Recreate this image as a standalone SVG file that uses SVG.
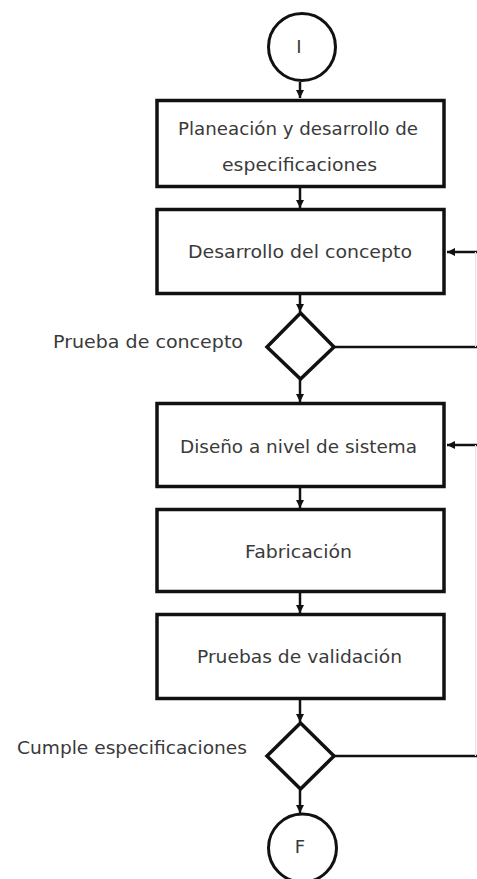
<svg xmlns="http://www.w3.org/2000/svg" width="477" height="879" viewBox="0 0 477 879">
<defs>
<marker id="ah" viewBox="0 0 10 10" refX="10" refY="5" markerWidth="3.2" markerHeight="3.2" orient="auto" markerUnits="strokeWidth">
<path d="M0,0 L10,5 L0,10 z" fill="#111"/>
</marker>
</defs>
<style>
.box{fill:#fff;stroke:#111;stroke-width:3.5}
.dia{fill:#fff;stroke:#111;stroke-width:3.5}
.term{fill:#fff;stroke:#111;stroke-width:3}
.t{font-family:"DejaVu Sans","Liberation Sans",sans-serif;font-size:18px;fill:#3a3a3a}
.c{text-anchor:middle}
.ln{stroke:#111;stroke-width:2.5;fill:none}
.arr{stroke:#111;stroke-width:2.5;fill:none;marker-end:url(#ah)}
.faint{stroke:#e2e2e2;stroke-width:1.2;fill:none}
</style>
<rect width="477" height="879" fill="#fff"/>
<g id="connectors">
<path class="arr" d="M300,82 V98"/>
<path class="arr" d="M300,188 V208"/>
<path class="arr" d="M300,295 V312"/>
<path class="arr" d="M300,380 V402"/>
<path class="arr" d="M300,488 V508"/>
<path class="arr" d="M300,593 V613"/>
<path class="arr" d="M300,700 V722"/>
<path class="arr" d="M300,790 V813"/>
<path class="ln" d="M334,347 H477"/>
<path class="arr" d="M477,252 H447"/>
<path class="ln" d="M334,756 H477"/>
<path class="arr" d="M477,445 H447"/>
<path class="faint" d="M475.5,252 V347 M475.5,445 V756"/>
</g>
<g id="start">
<circle class="term" cx="302" cy="47" r="33.5"/>
<text class="t c" x="299" y="53">I</text>
</g>
<g id="planeacion">
<rect class="box" x="157" y="100.5" width="287" height="86"/>
<text class="t c" x="298" y="135" textLength="240" lengthAdjust="spacingAndGlyphs">Planeación y desarrollo de</text>
<text class="t c" x="299.5" y="171" textLength="155" lengthAdjust="spacingAndGlyphs">especificaciones</text>
</g>
<g id="concepto">
<rect class="box" x="157" y="209.5" width="287" height="84"/>
<text class="t c" x="300" y="258" textLength="224" lengthAdjust="spacingAndGlyphs">Desarrollo del concepto</text>
</g>
<g id="prueba-concepto">
<path class="dia" d="M300.5,313 L334,347 L300.5,379 L267,347 Z"/>
<text class="t" x="53" y="348" textLength="190" lengthAdjust="spacingAndGlyphs">Prueba de concepto</text>
</g>
<g id="diseno">
<rect class="box" x="157" y="403.5" width="287" height="83"/>
<text class="t c" x="298.5" y="453" textLength="237" lengthAdjust="spacingAndGlyphs">Diseño a nivel de sistema</text>
</g>
<g id="fabricacion">
<rect class="box" x="157" y="509.5" width="287" height="82"/>
<text class="t c" x="298.5" y="558" textLength="107" lengthAdjust="spacingAndGlyphs">Fabricación</text>
</g>
<g id="validacion">
<rect class="box" x="157" y="614.5" width="287" height="84"/>
<text class="t c" x="299.5" y="663" textLength="205" lengthAdjust="spacingAndGlyphs">Pruebas de validación</text>
</g>
<g id="cumple">
<path class="dia" d="M300.5,723 L334,756 L300.5,789 L267,756 Z"/>
<text class="t" x="17" y="754" textLength="230" lengthAdjust="spacingAndGlyphs">Cumple especificaciones</text>
</g>
<g id="fin">
<circle class="term" cx="302.5" cy="848" r="34"/>
<text class="t c" x="300" y="853">F</text>
</g>
</svg>
